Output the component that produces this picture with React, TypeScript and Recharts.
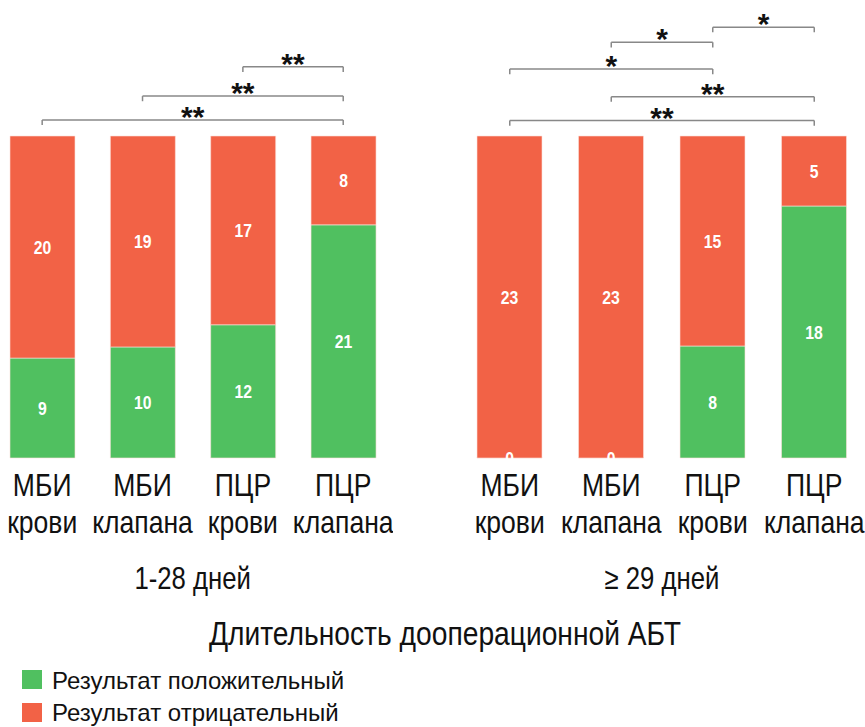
import React from 'react';
import { BarChart, Bar, XAxis, YAxis, LabelList, ReferenceLine } from 'recharts';

const categories = ['МБИ крови', 'МБИ клапана', 'ПЦР крови', 'ПЦР клапана'];
const groupLabels = ['1-28 дней', '≥ 29 дней'];

const earlyPositive = [9, 10, 12, 21];
const earlyNegative = [20, 19, 17, 8];
const latePositive = [0, 0, 8, 18];
const lateNegative = [23, 23, 15, 5];

// significance brackets: bar index from/to, height in % of the bar, marker
const earlyBrackets = [
  { from: 0, to: 3, level: 105, mark: '**' },
  { from: 1, to: 3, level: 112.4, mark: '**' },
  { from: 2, to: 3, level: 121.5, mark: '**' },
];
const lateBrackets = [
  { from: 0, to: 3, level: 104.8, mark: '**' },
  { from: 1, to: 3, level: 112.2, mark: '**' },
  { from: 0, to: 2, level: 120.8, mark: '*' },
  { from: 1, to: 2, level: 129.1, mark: '*' },
  { from: 2, to: 3, level: 133.8, mark: '*' },
];

const GREEN = '#50C060';
const RED = '#F26246';
const SANS = "'Liberation Sans', Arial, sans-serif";
const SQUEEZE = 0.83; // the original uses a condensed face

function buildRows(pos: number[], neg: number[]) {
  return categories.map((name, i) => {
    const total = pos[i] + neg[i];
    return {
      name,
      pos: pos[i],
      neg: neg[i],
      posPct: (pos[i] / total) * 100,
      negPct: (neg[i] / total) * 100,
    };
  });
}

function NText({ x, y, size, weight = 400, fill = '#111', anchor = 'middle', children }: any) {
  return (
    <text
      transform={`translate(${x},${y}) scale(${SQUEEZE},1)`}
      textAnchor={anchor}
      fontSize={size}
      fontWeight={weight}
      fill={fill}
      fontFamily={SANS}
    >
      {children}
    </text>
  );
}

function CategoryTick(props: any) {
  const { x, y, payload } = props;
  const [top, bottom] = String(payload.value).split(' ');
  return (
    <g>
      <NText x={x} y={y + 38} size={32}>{top}</NText>
      <NText x={x} y={y + 75} size={32}>{bottom}</NText>
    </g>
  );
}

function SegmentLabel(props: any) {
  const { x, y, width, height, value } = props;
  return (
    <NText x={x + width / 2} y={y + height / 2 + 7} size={19} weight={700} fill="#fff">
      {value}
    </NText>
  );
}

function GroupLabel(props: any) {
  const { viewBox, value } = props;
  return (
    <NText x={viewBox.x + viewBox.width / 2} y={viewBox.y + viewBox.height - 11} size={31}>
      {value}
    </NText>
  );
}

function Group({ pos, neg, brackets, label, left, width }: any) {
  const rows = buildRows(pos, neg);
  return (
    <div style={{ position: 'absolute', left, top: 0 }}>
      <BarChart width={width} height={600} data={rows} margin={{ top: 7.2, right: 0, bottom: 0, left: 0 }}>
        <XAxis
          dataKey="name"
          interval={0}
          height={142}
          tickLine={false}
          axisLine={false}
          tickSize={0}
          tickMargin={0}
          tick={<CategoryTick />}
          label={{ value: label, content: <GroupLabel value={label} /> }}
        />
        <YAxis hide domain={[0, 140]} />
        <Bar dataKey="posPct" stackId="a" fill={GREEN} barSize={65} minPointSize={1} stroke="#fbe0da" strokeWidth={0.6} isAnimationActive={false}>
          <LabelList dataKey="pos" content={<SegmentLabel />} />
        </Bar>
        <Bar dataKey="negPct" stackId="a" fill={RED} barSize={65} stroke="#fbe0da" strokeWidth={0.6} isAnimationActive={false}>
          <LabelList dataKey="neg" content={<SegmentLabel />} />
        </Bar>
        {brackets.map((b: any, i: number) => (
          <ReferenceLine
            key={`h${i}`}
            segment={[
              { x: categories[b.from], y: b.level },
              { x: categories[b.to], y: b.level },
            ]}
            stroke="#888"
            strokeWidth={1.5}
            label={{ value: b.mark, position: 'top', offset: -7, fontSize: 30, fontWeight: 700, fill: '#111', fontFamily: SANS }}
          />
        ))}
        {brackets.map((b: any, i: number) => (
          <ReferenceLine
            key={`l${i}`}
            segment={[
              { x: categories[b.from], y: b.level },
              { x: categories[b.from], y: b.level - 1.6 },
            ]}
            stroke="#888"
            strokeWidth={1.5}
          />
        ))}
        {brackets.map((b: any, i: number) => (
          <ReferenceLine
            key={`r${i}`}
            segment={[
              { x: categories[b.to], y: b.level },
              { x: categories[b.to], y: b.level - 1.6 },
            ]}
            stroke="#888"
            strokeWidth={1.5}
          />
        ))}
      </BarChart>
    </div>
  );
}

export default function App() {
  return (
    <div style={{ position: 'absolute', left: 0, top: 0, width: 865, height: 727, background: '#fff', overflow: 'hidden' }}>
      <Group pos={earlyPositive} neg={earlyNegative} brackets={earlyBrackets} label={groupLabels[0]} left={-8.1} width={401.4} />
      <Group pos={latePositive} neg={lateNegative} brackets={lateBrackets} label={groupLabels[1]} left={458.6} width={406} />
      <svg width={865} height={127} style={{ position: 'absolute', left: 0, top: 600 }}>
        <NText x={445} y={45} size={34}>Длительность дооперационной АБТ</NText>
        <rect x={22} y={70} width={20} height={19} fill={GREEN} />
        <text x={52} y={89} fontSize={24} fill="#111" fontFamily={SANS}>
          Результат положительный
        </text>
        <rect x={22} y={103} width={20} height={19} fill={RED} />
        <text x={52} y={121} fontSize={24} fill="#111" fontFamily={SANS}>
          Результат отрицательный
        </text>
      </svg>
    </div>
  );
}
